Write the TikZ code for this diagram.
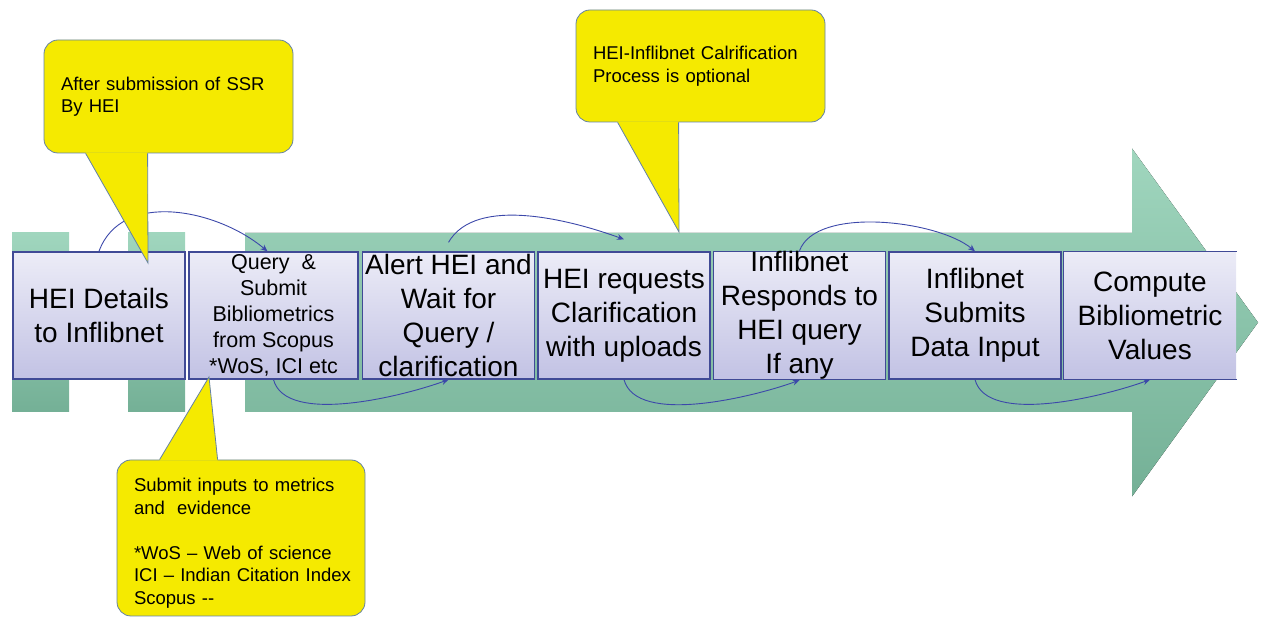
\documentclass[tikz,border=0pt]{standalone}
\usepackage{fontspec}
\setmainfont{Liberation Sans}
\usetikzlibrary{arrows.meta}
\definecolor{bandtop}{RGB}{160,214,190}
\definecolor{bandbot}{RGB}{116,176,150}
\definecolor{boxtop}{RGB}{236,236,247}
\definecolor{boxbot}{RGB}{194,194,228}
\definecolor{boxline}{RGB}{64,74,150}
\definecolor{arcline}{RGB}{60,72,170}
\definecolor{notefill}{RGB}{245,234,0}
\definecolor{noteline}{RGB}{100,130,165}
\tikzset{
  band/.style={top color=bandtop, bottom color=bandbot},
  stage/.style={draw=boxline, line width=1.3pt, top color=boxtop, bottom color=boxbot,
    minimum width=172pt, minimum height=127pt, inner xsep=2pt, inner ysep=0pt,
    align=center, font=\fontsize{28}{34}\selectfont},
  flow/.style={draw=arcline, line width=0.9pt, -{Stealth[length=7pt,width=6pt]}},
  note/.style={draw=noteline, line width=0.8pt, fill=notefill, rounded corners=14pt,
    align=left, inner xsep=17pt, font=\fontsize{18.5}{22.5}\selectfont},
  tail/.style={draw=noteline, line width=0.8pt},
}

\begin{document}
\begin{tikzpicture}[x=1pt,y=1pt]
    \useasboundingbox (0,0) rectangle (1261,617);
    % Draw the green band with the big arrow
    \fill[band] (12,205) rectangle (69,384);
    \fill[band] (128,205) rectangle (185,384);
    \fill[band] (245,205) -- (1132,205) -- (1132,120.5) -- (1258,294.5) -- (1132,468.5) -- (1132,384) -- (245,384) -- cycle;
    % Draw the stages
    \node[stage] (b1) at (99,301.5) {HEI Details\\to Inflibnet};
    \node[stage, minimum width=169pt, font=\fontsize{21.5}{26}\selectfont] (b2) at (273.5,301.5) {Query~~\&\\Submit\\Bibliometrics\\from Scopus\\*WoS, ICI etc};
    \node[stage] (b3) at (448.5,301.5) {Alert HEI and\\Wait for\\Query /\\clarification};
    \node[stage] (b4) at (624,301.5) {HEI requests\\Clarification\\with uploads};
    \node[stage] (b5) at (799.5,301.5) {Inflibnet\\Responds to\\HEI query\\If any};
    \node[stage] (b6) at (975,301.5) {Inflibnet\\Submits\\Data Input};
    \node[stage, draw=none] (b7) at (1150,301.5) {Compute\\Bibliometric\\Values};
    \draw[boxline, line width=1.3pt] (b7.north east) -- (b7.north west) -- (b7.south west) -- (b7.south east);
    % Draw the arcs between the stages
    \draw[flow] (b1.north) to[out=70,in=140] ([xshift=-6pt]b2.north);
    \draw[flow] ([yshift=9pt]b3.north) to[out=60,in=160,looseness=0.8] ([yshift=12pt]b4.north);
    \draw[flow] (b5.north) to[out=70,in=140,looseness=0.7] (b6.north);
    \draw[flow] (b2.south) to[out=-75,in=-160,looseness=0.7] (b3.south);
    \draw[flow] (b4.south) to[out=-75,in=-160,looseness=0.7] (b5.south);
    \draw[flow] (b6.south) to[out=-75,in=-160,looseness=0.7] (b7.south);
    % Draw the yellow notes
    \node[note, text width=215pt, minimum height=113pt] (n1) at (168.5,520.5) {After submission of SSR\\By HEI};
    \node[note, text width=215pt, minimum height=112pt] (n2) at (700.5,551) {HEI-Inflibnet Calrification\\Process is optional};
    \node[note, text width=214pt, minimum height=156pt] (n3) at (241,79) {\rule{0pt}{24pt}Submit inputs to metrics\\and~~evidence\\[22.5pt]*WoS – Web of science\\\mbox{ICI – Indian Citation Index}\\Scopus -{}-};
    \coordinate (t1) at (148,354);
    \coordinate (t2) at (679,385);
    \coordinate (t3) at (209,240);
    % Note tails
    \fill[notefill] ([xshift=42pt,yshift=1pt]n1.south west) -- ([xshift=42pt]n1.south west) -- (t1) -- ([xshift=104pt]n1.south west) -- ([xshift=104pt,yshift=1pt]n1.south west) -- cycle;
    \draw[tail] ([xshift=42pt]n1.south west) -- (t1) -- ([xshift=104pt]n1.south west);
    \fill[notefill] ([xshift=42pt,yshift=1pt]n2.south west) -- ([xshift=42pt]n2.south west) -- (t2) -- ([xshift=103pt]n2.south west) -- ([xshift=103pt,yshift=1pt]n2.south west) -- cycle;
    \draw[tail] ([xshift=42pt]n2.south west) -- (t2) -- ([xshift=103pt]n2.south west);
    \fill[notefill] ([xshift=43pt,yshift=-1pt]n3.north west) -- ([xshift=43pt]n3.north west) -- (t3) -- ([xshift=101pt]n3.north west) -- ([xshift=101pt,yshift=-1pt]n3.north west) -- cycle;
    \draw[tail] ([xshift=43pt]n3.north west) -- (t3) -- ([xshift=101pt]n3.north west);
\end{tikzpicture}
\end{document}
